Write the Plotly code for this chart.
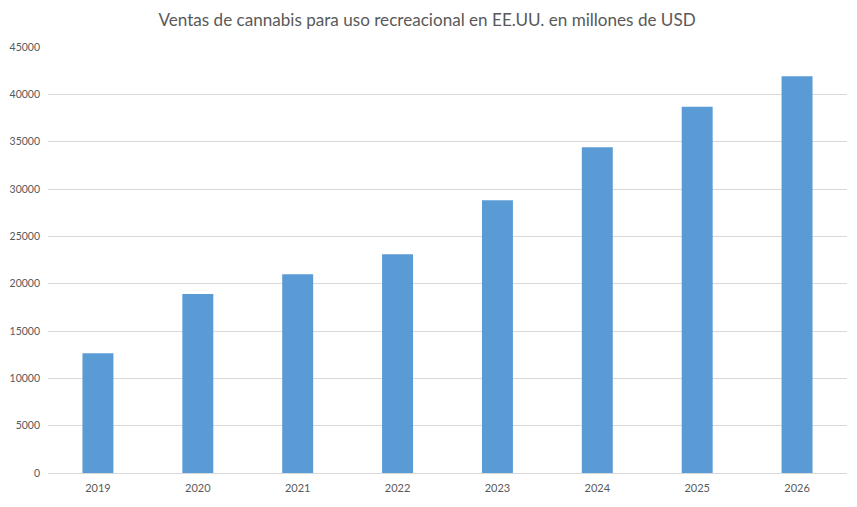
import plotly.graph_objects as go

years = ["2019", "2020", "2021", "2022", "2023", "2024", "2025", "2026"]
ventas = [12650, 18900, 21000, 23100, 28800, 34400, 38700, 41900]
y_ticks = [0, 5000, 10000, 15000, 20000, 25000, 30000, 35000, 40000, 45000]

fig = go.Figure()
fig.add_trace(go.Bar(x=years, y=ventas, marker_color="#5B9BD5", marker_line_width=0))

# the page puts the figure 8px in from the top-left corner, so margins compensate
fig.update_layout(
    width=857, height=507,
    title=dict(text="Ventas de cannabis para uso recreacional en EE.UU. en millones de USD",
               x=0.489, xanchor="center", y=0.976, yanchor="middle",
               font=dict(family="Lato", size=17.1, color="#595959")),
    font=dict(family="Lato", size=12, color="#595959"),
    plot_bgcolor="white", paper_bgcolor="white",
    margin=dict(l=40, r=18, t=39, b=42),
    bargap=0.69,
    showlegend=False,
)
fig.update_xaxes(showgrid=False, showline=True, linecolor="#d9d9d9", linewidth=1,
                 ticks="", ticklabelstandoff=5, tickfont=dict(size=11))
fig.update_yaxes(range=[0, 45000], tickvals=y_ticks, tickformat="d", showgrid=True,
                 gridcolor="#d9d9d9", zeroline=False, showline=False, ticks="",
                 automargin=False, ticklabelstandoff=7, tickfont=dict(size=10.5))

fig.write_html("out.html")
